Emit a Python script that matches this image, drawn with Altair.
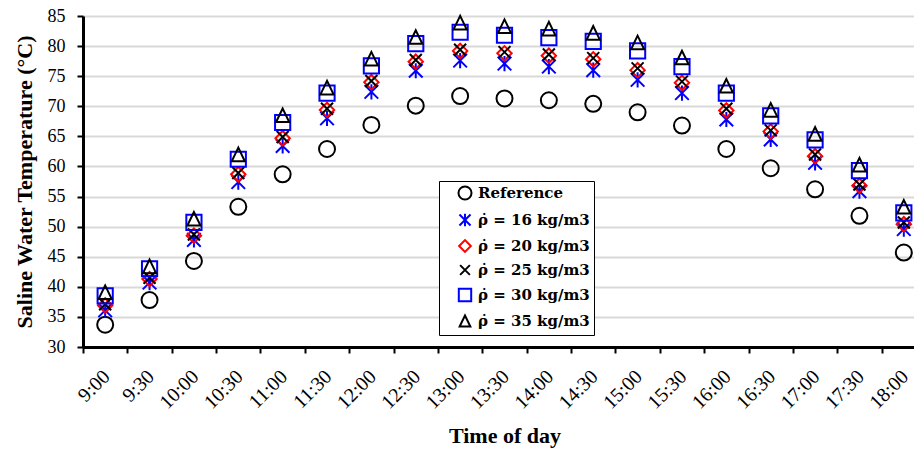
import altair as alt
import pandas as pd

times = ["9:00", "9:30", "10:00", "10:30", "11:00", "11:30", "12:00", "12:30", "13:00",
         "13:30", "14:00", "14:30", "15:00", "15:30", "16:00", "16:30", "17:00", "17:30", "18:00"]

series_names = ["Reference", "\u03c1\u0307 = 16 kg/m3", "\u03c1\u0307 = 20 kg/m3",
                "\u03c1\u0307 = 25 kg/m3", "\u03c1\u0307 = 30 kg/m3", "\u03c1\u0307 = 35 kg/m3"]

reference = [33.7, 37.8, 44.3, 53.3, 58.7, 62.9, 66.9, 70.1, 71.7, 71.3, 71.0, 70.4, 69.0, 66.8, 62.9, 59.7, 56.2, 51.8, 45.7]
rho16 = [36.1, 40.7, 47.8, 57.4, 63.4, 68.0, 72.4, 75.9, 77.6, 77.1, 76.6, 76.0, 74.4, 72.2, 67.8, 64.5, 60.6, 55.9, 49.6]
rho20 = [36.9, 41.3, 48.5, 58.7, 64.7, 69.4, 74.0, 77.4, 79.2, 78.8, 78.4, 77.8, 76.0, 73.9, 69.3, 65.8, 61.7, 56.8, 50.4]
rho25 = [37.1, 41.5, 48.7, 58.9, 64.9, 69.6, 74.2, 77.7, 79.4, 79.0, 78.6, 78.0, 76.3, 74.1, 69.6, 66.0, 62.0, 57.0, 50.7]
rho30 = [38.5, 43.0, 50.7, 61.2, 67.3, 72.2, 76.7, 80.4, 82.3, 81.8, 81.4, 80.8, 79.2, 76.6, 72.2, 68.4, 64.4, 59.3, 52.3]
rho35 = [39.1, 43.4, 51.3, 62.0, 68.5, 73.1, 77.9, 81.5, 83.9, 83.3, 82.9, 82.2, 80.6, 78.1, 73.4, 69.4, 65.4, 60.3, 53.3]

all_series = [reference, rho16, rho20, rho25, rho30, rho35]

rows = []
for k, (name, vals) in enumerate(zip(series_names, all_series)):
    for t, v in zip(times, vals):
        rows.append({"time": t, "series": name, "temp": v, "k": k})
df = pd.DataFrame(rows)

# marker shapes (unit path coordinates, scaled by sqrt(size)/2)
circle = "circle"
asterisk = "M-0.85,-0.85L0.85,0.85M-0.85,0.85L0.85,-0.85M0,-0.95L0,0.95"
diamond = "M-0.9,0L0,-0.9L0.9,0L0,0.9Z"
xmark = "M-0.75,-0.75L0.75,0.75M-0.75,0.75L0.75,-0.75"
square = "M-0.95,-0.95H0.95V0.95H-0.95Z"
triangle = "M0,-0.85L-0.82,0.85L0.82,0.85Z"
shapes = [circle, asterisk, diamond, xmark, square, triangle]
colors = ["#000000", "#0000FF", "#FF0000", "#000000", "#0000FF", "#000000"]

FONT = "Liberation Serif"
LEGEND_FONT = "DejaVu Serif"

legend = alt.Legend(title=None, orient="none", legendX=356, legendY=165,
                    strokeColor="black", fillColor="white", padding=4,
                    symbolOffset=14, symbolSize=170, symbolStrokeWidth=2,
                    labelFont=LEGEND_FONT, labelFontSize=15, labelFontWeight="bold",
                    labelColor="black", labelOffset=5, rowPadding=5, labelLimit=0)

chart = alt.Chart(df).mark_point(filled=False, strokeWidth=2, opacity=1, size=256).encode(
    x=alt.X("time:N", sort=times,
            scale=alt.Scale(domain=times, paddingInner=0, paddingOuter=0),
            axis=alt.Axis(title="Time of day", labelAngle=-45, tickBand="extent", grid=False,
                          labelFont=FONT, labelFontSize=20, labelColor="black",
                          labelPadding=13, labelOffset=-6,
                          tickSize=6, tickWidth=2, tickColor="black",
                          domainColor="black", domainWidth=3,
                          titleFont=FONT, titleFontSize=22, titleFontWeight="bold", titleColor="black",
                          titleBaseline="middle", titleY=88)),
    y=alt.Y("temp:Q",
            scale=alt.Scale(domain=[30, 85], nice=False, zero=False),
            axis=alt.Axis(title="Saline Water Temperature (\u00b0C)", values=list(range(30, 90, 5)),
                          labelFont=FONT, labelFontSize=18, labelColor="black", labelPadding=12,
                          tickSize=6, tickWidth=2, tickColor="black",
                          domainColor="black", domainWidth=3,
                          grid=True, gridColor="#d9d9d9", gridWidth=2,
                          titleFont=FONT, titleFontSize=22, titleFontWeight="bold", titleColor="black",
                          titleBaseline="middle", titleX=-59)),
    shape=alt.Shape("series:N", scale=alt.Scale(domain=series_names, range=shapes), legend=legend),
    color=alt.Color("series:N", scale=alt.Scale(domain=series_names, range=colors), legend=legend),
    order=alt.Order("k:Q"),
).properties(
    width=843, height=331,
    autosize=alt.AutoSizeParams(type="none"),
    padding={"left": 75, "top": 8, "right": -12, "bottom": 101},
).configure_view(
    stroke="black", strokeWidth=3
).configure(background="white")

chart.save("out.html", embed_options={"renderer": "svg", "actions": False})
